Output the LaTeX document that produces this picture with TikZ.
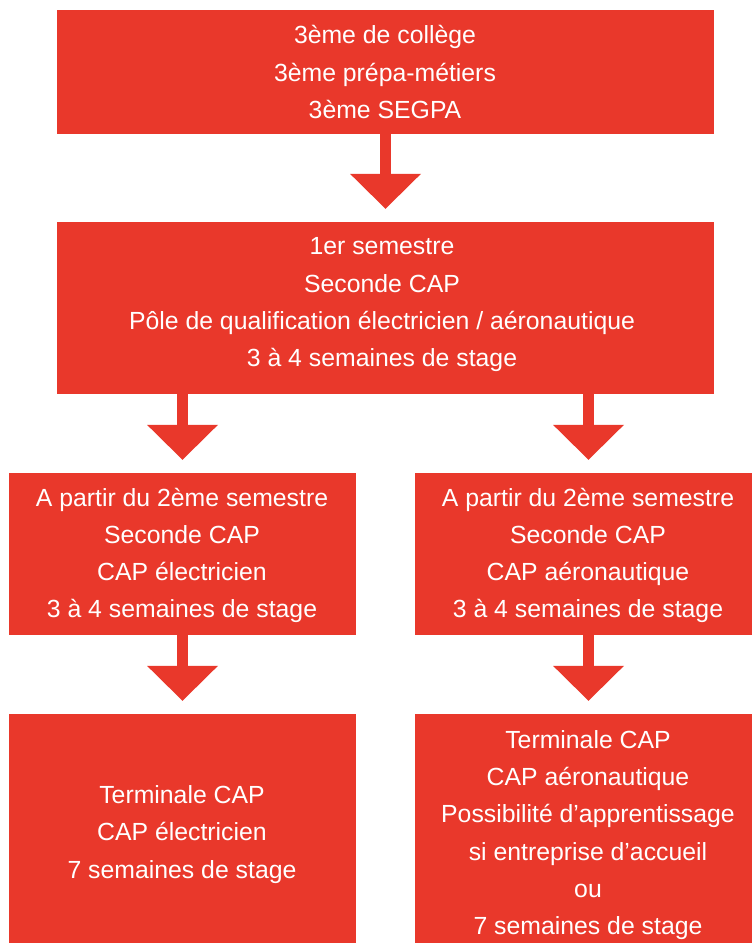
\documentclass[tikz,border=0pt]{standalone}
\usepackage{fontspec}
\setmainfont{Liberation Sans}
\usetikzlibrary{arrows.meta}
\definecolor{rouge}{RGB}{233,56,43}

\begin{document}
\begin{tikzpicture}[x=1pt, y=-1pt,
	boite/.style={fill=rouge, draw=none, inner sep=0pt},
	texte/.style={text=white, align=center, inner sep=0pt,
		font=\fontsize{24.8}{37.3}\selectfont,
		execute at begin node=\strut, execute at end node=\strut},
	fleche/.style={draw=rouge, line width=11pt,
		-{Triangle[width=71pt, length=35pt, line width=0pt]}, shorten >=13pt}]
		\useasboundingbox (0,0) rectangle (752,943);
		
		\node[boite, minimum width=657pt, minimum height=124pt] (a)  at (385.5,72)    {};
		\node[boite, minimum width=657pt, minimum height=172pt] (b)  at (385.5,308)   {};
		\node[boite, minimum width=347pt, minimum height=162pt] (c1) at (182.5,554)   {};
		\node[boite, minimum width=337pt, minimum height=162pt] (c2) at (583.5,554)   {};
		\node[boite, minimum width=347pt, minimum height=229pt] (d1) at (182.5,828.5) {};
		\node[boite, minimum width=337pt, minimum height=229pt] (d2) at (583.5,828.5) {};
		
		\node[texte] (ta)  at (385,77.5)  {3ème de collège\\3ème prépa-métiers\\3ème SEGPA};
		\node[texte] (tb)  at (382,308)   {1er semestre\\Seconde CAP\\Pôle de qualification électricien / aéronautique\\3 à 4 semaines de stage};
		\node[texte] (tc1) at (182,558.5) {A partir du 2ème semestre\\Seconde CAP\\CAP électricien\\3 à 4 semaines de stage};
		\node[texte] (tc2) at (588,558.5) {A partir du 2ème semestre\\Seconde CAP\\CAP aéronautique\\3 à 4 semaines de stage};
		\node[texte] (td1) at (182,837.5) {Terminale CAP\\CAP électricien\\7 semaines de stage};
		\node[texte] (td2) at (588,838)   {Terminale CAP\\CAP aéronautique\\Possibilité d’apprentissage\\si entreprise d’accueil\\ou\\7 semaines de stage};
		
		\draw[fleche] (a.south) -- (b.north);
		\draw[fleche] (b.south -| c1.north) -- (c1.north);
		\draw[fleche] ([xshift=5pt]b.south -| c2.north) -- ([xshift=5pt]c2.north);
		\draw[fleche] (c1.south) -- (d1.north);
		\draw[fleche] ([xshift=5pt]c2.south) -- ([xshift=5pt]d2.north);
		\end{tikzpicture}
\end{document}
